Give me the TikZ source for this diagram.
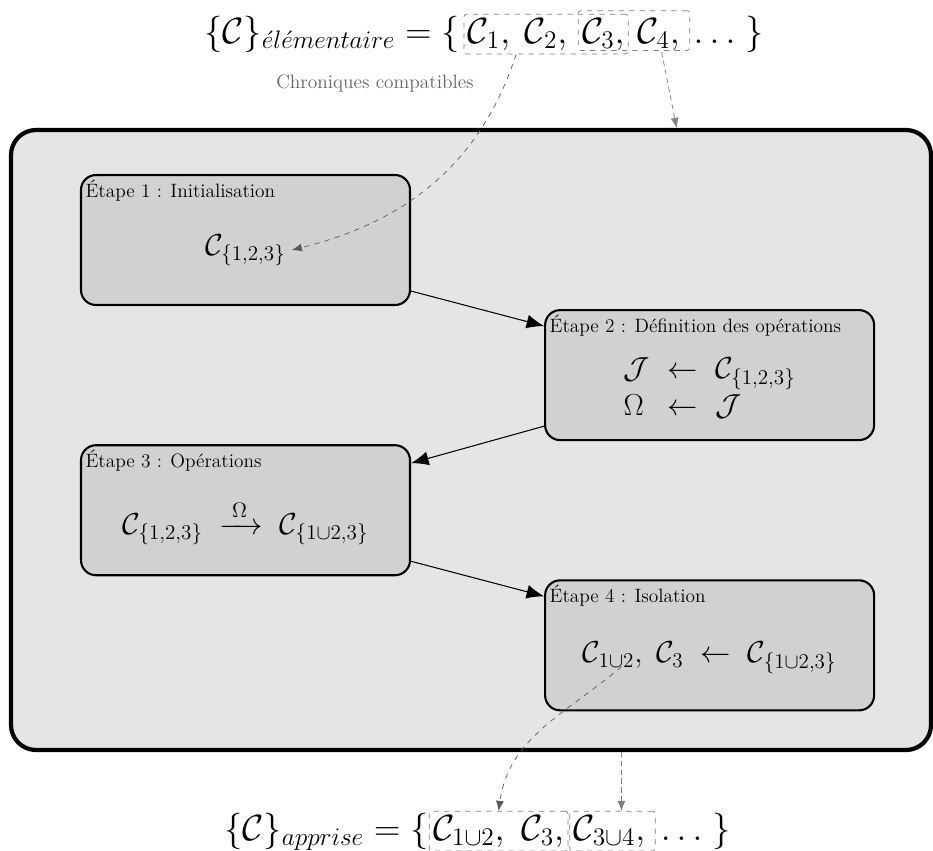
\documentclass[tikz,border=0pt]{standalone}
\usepackage{amsmath,amssymb}
\usepackage{tikz}
\usetikzlibrary{positioning,arrows.meta,fit,calc}

\begin{document}
\begin{tikzpicture}[
    node distance=0.06cm and 2.66cm,
    cadre/.style={draw, line width=2.4pt, rounded corners=0.5cm, fill=black!10, minimum width=18.4cm, minimum height=12.4cm},
    etape/.style={draw, very thick, rounded corners=0.3cm, fill=black!18, minimum width=6.58cm, minimum height=2.6cm},
    titre/.style={anchor=north west, inner sep=3pt, font=\fontsize{11}{13}\selectfont},
    contenu/.style={font=\fontsize{16.6}{20}\selectfont},
    eq/.style={inner sep=1pt, font=\huge},
    groupe/.style={draw, dashed, gray, rounded corners=1.5pt, inner sep=1pt},
    note/.style={font=\fontsize{11}{13}\selectfont, text=gray!80!black},
    flux/.style={-{Latex[length=3.5mm, width=2.8mm]}, semithick},
    lien/.style={-{Latex[length=2mm, width=1.6mm]}, dashed, gray!70!black},
    lienc/.style={-{Latex[length=2mm, width=1.6mm]}, densely dashed, gray},
]
\useasboundingbox (0,0) rectangle (18.66,-17);

% Cadre principal
\node[cadre] (cadre) at (9.42,-8.8) {};

% Etapes
\node[etape] (s1) at (4.91,-4.8) {};
\node[etape, below right=of s1] (s2) {};
\node[etape, below left=of s2] (s3) {};
\node[etape, below right=of s3] (s4) {};

\node[titre] (t1) at (s1.north west) {Étape 1 : Initialisation};
\node[titre] (t2) at (s2.north west) {Étape 2 : Définition des opérations};
\node[titre] (t3) at (s3.north west) {Étape 3 : Opérations};
\node[titre] (t4) at (s4.north west) {Étape 4 : Isolation};

\node[contenu] (k1) at ([yshift=-0.2cm]s1.center) {$\mathcal{C}_{\{1,2,3\}}$};
\node[contenu] (k2) at ([yshift=-0.3cm]s2.center) {$\begin{array}{lcl}
    \mathcal{J} & \leftarrow & \mathcal{C}_{\{1,2,3\}} \\[1pt]
    \Omega & \leftarrow & \mathcal{J}
  \end{array}$};
\node[contenu] (k3) at ([yshift=-0.25cm]s3.center) {$\mathcal{C}_{\{1,2,3\}} \;\xrightarrow{\;\Omega\;}\; \mathcal{C}_{\{1\cup2,3\}}$};
\node[contenu] (k4) at ([yshift=-0.25cm]s4.center) {$\mathcal{C}_{1\cup2},\ \mathcal{C}_3 \;\leftarrow\; \mathcal{C}_{\{1\cup2,3\}}$};

% Enchainement des etapes
\draw[flux] ([yshift=0.3cm]s1.south east) -- ([yshift=-0.34cm]s2.north west);
\draw[flux] ([yshift=0.3cm]s2.south west) -- ([yshift=-0.38cm]s3.north east);
\draw[flux] ([yshift=0.3cm]s3.south east) -- ([yshift=-0.34cm]s4.north west);

% Ensemble elementaire
\node[eq, anchor=base west] (elem) at (4.04,-0.86) {$\{\mathcal{C}\}_{\acute{e}l\acute{e}mentaire} = \{$};
\node[eq, base right=2pt of elem] (e1) {$\mathcal{C}_1,$};
\node[eq, base right=6pt of e1] (e2) {$\mathcal{C}_2,$};
\node[eq, base right=6pt of e2] (e3) {$\mathcal{C}_3,$};
\node[eq, base right=5pt of e3] (e4) {$\mathcal{C}_4,\,$};
\node[eq, base right=2pt of e4] (efin) {$\ldots\;\}$};
\node[groupe, fit=(e1)(e3)] (g1) {};
\node[groupe, fit=(e3)(e4), yshift=2pt] (g2) {};

% Ensemble appris
\node[eq, anchor=base west] (appr) at (4.44,-16.8) {$\{\mathcal{C}\}_{apprise} = \{$};
\node[eq, base right=0pt of appr] (a12) {$\mathcal{C}_{1\cup2},\ \mathcal{C}_3,$};
\node[eq, base right=3pt of a12] (a34) {$\mathcal{C}_{3\cup4},\,$};
\node[eq, base right=3pt of a34] (afin) {$\ldots\;\}$};
\node[groupe, fit=(a12)] (h1) {};
\node[groupe, fit=(a34)] (h2) {};

% Liens
\node[note] (chron) at (7.5,-1.68) {Chroniques compatibles};
\draw[lien] ([xshift=-0.6cm]g1.south) to[out=-108, in=14] (k1.east);
\draw[lienc] (e4.south) -- ([xshift=0.3cm]e4.south |- cadre.north);
\draw[lien] ([xshift=0.9cm, yshift=0.26cm]k4.south west) to[out=-140, in=82] (h1.north);
\draw[lienc] ([xshift=0.18cm]h2.north |- cadre.south) -- ([xshift=0.18cm]h2.north);

\end{tikzpicture}
\end{document}
